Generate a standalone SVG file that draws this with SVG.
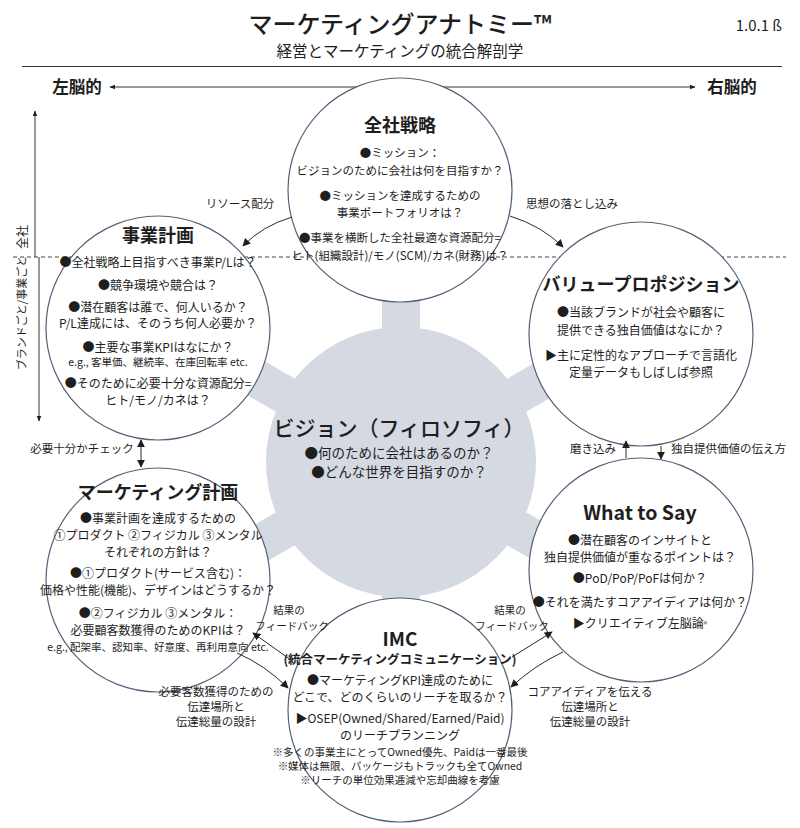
<svg xmlns="http://www.w3.org/2000/svg" width="800" height="828" viewBox="0 0 800 828">
<defs>
<style>
text{font-family:"Noto Sans CJK JP","Noto Sans",sans-serif;fill:#1e1e1e}
.c{fill:#fff;stroke:#556077;stroke-width:1.2}
.t{font-size:18px;font-weight:700;text-anchor:middle}
.b{font-size:12px;text-anchor:middle}
.bt{font-size:11.5px;text-anchor:middle}
.s{font-size:10.5px;text-anchor:middle}
.l{font-size:11.5px;text-anchor:middle}
.f{font-size:10.5px;text-anchor:middle}
.conn{fill:none;stroke:#2a2a2a;stroke-width:1}
.gear{fill:#d4d9e2}
</style>
<marker id="ah" viewBox="0 0 10 10" refX="9" refY="5" markerWidth="8" markerHeight="8" orient="auto-start-reverse"><path d="M0,0 L10,5 L0,10 z" fill="#1e1e1e"/></marker>
<marker id="ahs" viewBox="0 0 10 10" refX="9" refY="5" markerWidth="6" markerHeight="6" orient="auto-start-reverse"><path d="M0,1 L10,5 L0,9 z" fill="#1e1e1e"/></marker>
</defs>

<g id="header">
<text x="400" y="33" style="font-size:24px;font-weight:500;text-anchor:middle">マーケティングアナトミー™</text>
<text x="400" y="57" style="font-size:15.5px;text-anchor:middle">経営とマーケティングの統合解剖学</text>
<text x="782" y="31" style="font-size:15px;text-anchor:end">1.0.1 ß</text>
<line x1="22" y1="66.5" x2="782" y2="66.5" stroke="#333" stroke-width="1.2"/>
<text x="77" y="93" style="font-size:16.5px;font-weight:700;text-anchor:middle">左脳的</text>
<text x="732" y="93" style="font-size:16.5px;font-weight:700;text-anchor:middle">右脳的</text>
<line x1="110" y1="87" x2="695" y2="87" stroke="#333" stroke-width="1" marker-start="url(#ahs)" marker-end="url(#ahs)"/>
</g>

<g id="axis">
<line x1="13" y1="257" x2="786" y2="257" stroke="#444" stroke-width="1" stroke-dasharray="4 3"/>
<line x1="35" y1="257" x2="35" y2="111" stroke="#333" stroke-width="1" marker-end="url(#ahs)"/>
<line x1="39" y1="257" x2="39" y2="421" stroke="#333" stroke-width="1" marker-end="url(#ahs)"/>
<text transform="translate(26.5,237) rotate(-90)" style="font-size:12px;text-anchor:middle">全社</text>
<text transform="translate(26,313) rotate(-90)" style="font-size:11px;text-anchor:middle">ブランドごと/事業ごと</text>
</g>

<g id="vision">
<g class="gear">
<circle cx="401" cy="462" r="135"/>
<rect x="382" y="287" width="38" height="80" transform="rotate(0 401 462)"/>
<rect x="382" y="287" width="38" height="80" transform="rotate(60 401 462)"/>
<rect x="382" y="287" width="38" height="80" transform="rotate(-60 401 462)"/>
<rect x="382" y="287" width="38" height="80" transform="rotate(120 401 462)"/>
<rect x="382" y="287" width="38" height="80" transform="rotate(-120 401 462)"/>
<rect x="382" y="287" width="38" height="80" transform="rotate(180 401 462)"/>
</g>
<text x="399" y="436" style="font-size:21px;font-weight:500;text-anchor:middle">ビジョン（フィロソフィ）</text>
<text x="399" y="458" style="font-size:13.5px;text-anchor:middle">●何のために会社はあるのか？</text>
<text x="399" y="477" style="font-size:13.5px;text-anchor:middle">●どんな世界を目指すのか？</text>
</g>

<g id="corporate-strategy">
<circle class="c" cx="400" cy="190" r="112"/>
<text class="t" x="400" y="132">全社戦略</text>
<text class="bt" x="400" y="156.5">●ミッション：</text>
<text class="bt" x="400" y="174.5">ビジョンのために会社は何を目指すか？</text>
<text class="bt" x="400" y="199.5">●ミッションを達成するための</text>
<text class="bt" x="400" y="216.5">事業ポートフォリオは？</text>
<text class="bt" x="400" y="241.5">●事業を横断した全社最適な資源配分=</text>
<text class="bt" x="400" y="259.5">ヒト(組織設計)/モノ(SCM)/カネ(財務)は？</text>
</g>

<g id="business-plan">
<circle class="c" cx="158" cy="328" r="112"/>
<text class="t" x="158" y="242">事業計画</text>
<text class="b" x="158" y="266.5">●全社戦略上目指すべき事業P/Lは？</text>
<text class="b" x="158" y="289.5">●競争環境や競合は？</text>
<text class="b" x="158" y="311.5">●潜在顧客は誰で、何人いるか？</text>
<text class="b" x="158" y="327.5">P/L達成には、そのうち何人必要か？</text>
<text class="b" x="158" y="351.5">●主要な事業KPIはなにか？</text>
<text class="s" x="158" y="366">e.g., 客単価、継続率、在庫回転率 etc.</text>
<text class="b" x="158" y="387.5">●そのために必要十分な資源配分=</text>
<text class="b" x="158" y="404.5">ヒト/モノ/カネは？</text>
</g>

<g id="value-proposition">
<circle class="c" cx="641" cy="334" r="112"/>
<text class="t" x="641" y="291">バリュープロポジション</text>
<text class="b" x="641" y="316.5">●当該ブランドが社会や顧客に</text>
<text class="b" x="641" y="334.5">提供できる独自価値はなにか？</text>
<text class="b" x="641" y="359.5">▶主に定性的なアプローチで言語化</text>
<text class="b" x="641" y="376.5">定量データもしばしば参照</text>
</g>

<g id="marketing-plan">
<circle class="c" cx="158" cy="580" r="112"/>
<text class="t" x="158" y="499">マーケティング計画</text>
<text class="b" x="158" y="522.5">●事業計画を達成するための</text>
<text class="b" x="158" y="539.5">①プロダクト ②フィジカル ③メンタル</text>
<text class="b" x="158" y="556.5">それぞれの方針は？</text>
<text class="b" x="158" y="577.5">●①プロダクト(サービス含む)：</text>
<text class="b" x="158" y="594.5">価格や性能(機能)、デザインはどうするか？</text>
<text class="b" x="158" y="617.5">●②フィジカル ③メンタル：</text>
<text class="b" x="158" y="634.5">必要顧客数獲得のためのKPIは？</text>
<text class="s" x="158" y="651">e.g., 配架率、認知率、好意度、再利用意向 etc.</text>
</g>

<g id="what-to-say">
<circle class="c" cx="641" cy="570" r="112"/>
<text x="640" y="520" style="font-size:19.5px;font-weight:700;text-anchor:middle">What to Say</text>
<text class="b" x="640" y="544.5">●潜在顧客のインサイトと</text>
<text class="b" x="640" y="561.5">独自提供価値が重なるポイントは？</text>
<text class="b" x="640" y="582.5">●PoD/PoP/PoFは何か？</text>
<text class="b" x="640" y="606.5">●それを満たすコアアイディアは何か？</text>
<text class="b" x="640" y="627.5">▶クリエイティブ左脳論<tspan style="font-size:7px" dy="-1">®</tspan></text>
</g>

<g id="imc">
<circle class="c" cx="400" cy="710" r="112"/>
<text x="400" y="645.5" style="font-size:19px;font-weight:700;text-anchor:middle">IMC</text>
<text x="400" y="664" style="font-size:12.5px;font-weight:700;text-anchor:middle">(統合マーケティングコミュニケーション)</text>
<text class="b" x="400" y="684.5">●マーケティングKPI達成のために</text>
<text class="b" x="400" y="701.5">どこで、どのくらいのリーチを取るか？</text>
<text class="b" x="400" y="722.5">▶OSEP(Owned/Shared/Earned/Paid)</text>
<text class="b" x="400" y="739.5">のリーチプランニング</text>
<text class="s" x="400" y="756">※多くの事業主にとってOwned優先、Paidは一番最後</text>
<text class="s" x="400" y="769.5">※媒体は無限、パッケージもトラックも全てOwned</text>
<text class="s" x="400" y="784">※リーチの単位効果逓減や忘却曲線を考慮</text>
</g>

<g id="connectors">
<path class="conn" d="M292 217 Q262 226 243 246" marker-end="url(#ah)"/>
<text class="l" x="240" y="207.5">リソース配分</text>
<path class="conn" d="M510 216 Q542 226 563 247" marker-end="url(#ah)"/>
<text class="l" x="572" y="207.5">思想の落とし込み</text>
<line class="conn" x1="141" y1="440" x2="141" y2="467" marker-start="url(#ah)" marker-end="url(#ah)"/>
<text class="l" x="82" y="452.5">必要十分かチェック</text>
<line class="conn" x1="626" y1="458" x2="626" y2="441" marker-end="url(#ah)"/>
<text class="l" x="593" y="452.5">磨き込み</text>
<line class="conn" x1="661" y1="446" x2="661" y2="459" marker-end="url(#ah)"/>
<text class="l" x="671" y="452.5" style="text-anchor:start">独自提供価値の伝え方</text>
<path class="conn" d="M237 653 Q265 665 288 688" marker-end="url(#ah)"/>
<text class="l" x="216" y="696">必要客数獲得のための</text>
<text class="l" x="216" y="711">伝達場所と</text>
<text class="l" x="216" y="726">伝達総量の設計</text>
<path class="conn" d="M563 652 Q535 665 511 687" marker-end="url(#ah)"/>
<text class="l" x="590" y="696">コアアイディアを伝える</text>
<text class="l" x="590" y="711">伝達場所と</text>
<text class="l" x="590" y="726">伝達総量の設計</text>
<line class="conn" x1="291" y1="660" x2="253" y2="633" marker-end="url(#ah)"/>
<text class="f" x="289" y="614">結果の</text>
<text class="f" x="292" y="629.5">フィードバック</text>
<line class="conn" x1="512" y1="657" x2="552" y2="632" marker-end="url(#ah)"/>
<text class="f" x="510" y="614">結果の</text>
<text class="f" x="512" y="629.5">フィードバック</text>
</g>
</svg>
